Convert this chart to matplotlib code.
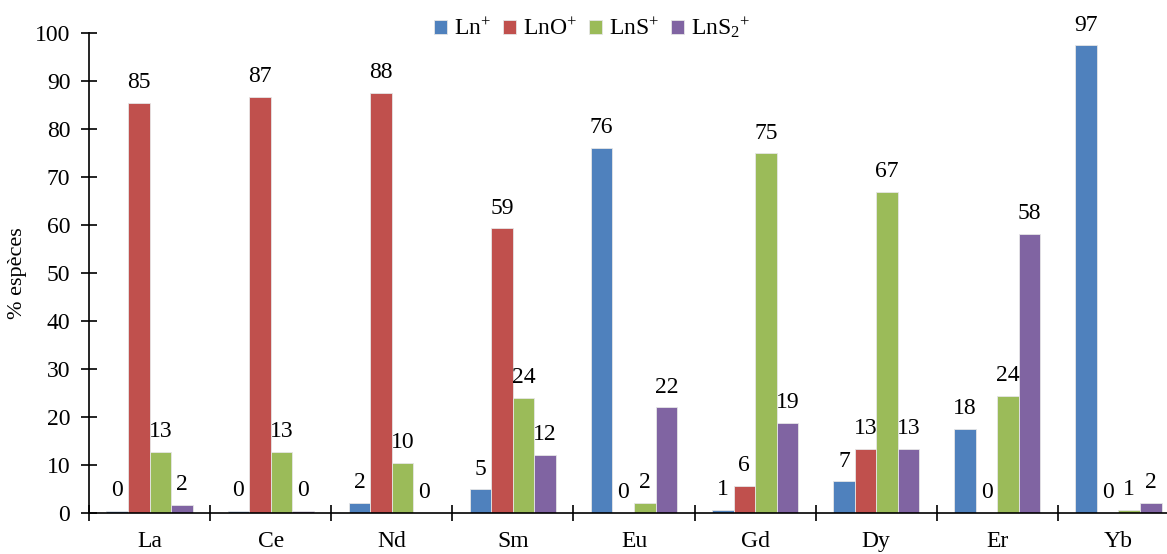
import numpy as np
import matplotlib
matplotlib.use("Agg")
import matplotlib.pyplot as plt

plt.rcParams['font.family'] = ['Liberation Serif', 'DejaVu Serif']
plt.rcParams['mathtext.fontset'] = 'custom'
plt.rcParams['mathtext.rm'] = 'Liberation Serif'
plt.rcParams['mathtext.it'] = 'Liberation Serif:italic'

elements = ["La", "Ce", "Nd", "Sm", "Eu", "Gd", "Dy", "Er", "Yb"]
series_names = [r"Ln$^{+}$", r"LnO$^{+}$", r"LnS$^{+}$", r"LnS$_{2}{}^{+}$"]
ln = [0.4, 0.4, 2.1, 4.9, 76.0, 0.6, 6.6, 17.6, 97.4]
lno = [85.4, 86.7, 87.6, 59.3, 0.0, 5.7, 13.3, 0.0, 0.0]
lns = [12.8, 12.8, 10.5, 24.0, 2.1, 74.9, 66.9, 24.4, 0.6]
lns2 = [1.7, 0.4, 0.0, 12.1, 22.0, 18.8, 13.3, 58.1, 2.1]
colors = ["#4F81BD", "#C0504D", "#9BBB59", "#8064A2"]

fig = plt.figure(figsize=(11.67, 5.54), dpi=100)
ax = fig.add_axes([89 / 1167, 41 / 554, 1090 / 1167, 480 / 554])

x = np.arange(len(elements))
w = 0.178
for i, vals in enumerate([ln, lno, lns, lns2]):
    bars = ax.bar(x + (i - 1.5) * w, vals, w, color=colors[i],
                  edgecolor="#e6e6e6", linewidth=0.6, label=series_names[i])
    ax.bar_label(bars, fmt="%.0f", padding=7, fontsize=17)

ax.set_xlim(-0.5, 8.5)
ax.set_ylim(0, 100)
ax.set_yticks(np.arange(0, 101, 10))
ax.set_xticks(np.arange(-0.5, 9, 1))
ax.set_xticklabels([])
ax.set_xticks(x, minor=True)
ax.set_xticklabels(elements, minor=True)
ax.tick_params(axis="x", which="minor", length=0, pad=13, labelsize=17)
ax.tick_params(axis="both", which="major", direction="inout", length=11,
               width=1.2, labelsize=17)
ax.tick_params(axis="y", pad=8)
for s in ["top", "right"]:
    ax.spines[s].set_visible(False)
for s in ["left", "bottom"]:
    ax.spines[s].set_linewidth(1.2)
ax.set_ylabel("% espèces", fontsize=16, labelpad=6)

fig.legend(loc="center", bbox_to_anchor=(592 / 1167, 1 - 28 / 554), ncol=4,
           frameon=False, fontsize=17, handlelength=0.55, handleheight=0.55,
           handletextpad=0.3, columnspacing=0.5)

fig.savefig("out.png", dpi=100)
